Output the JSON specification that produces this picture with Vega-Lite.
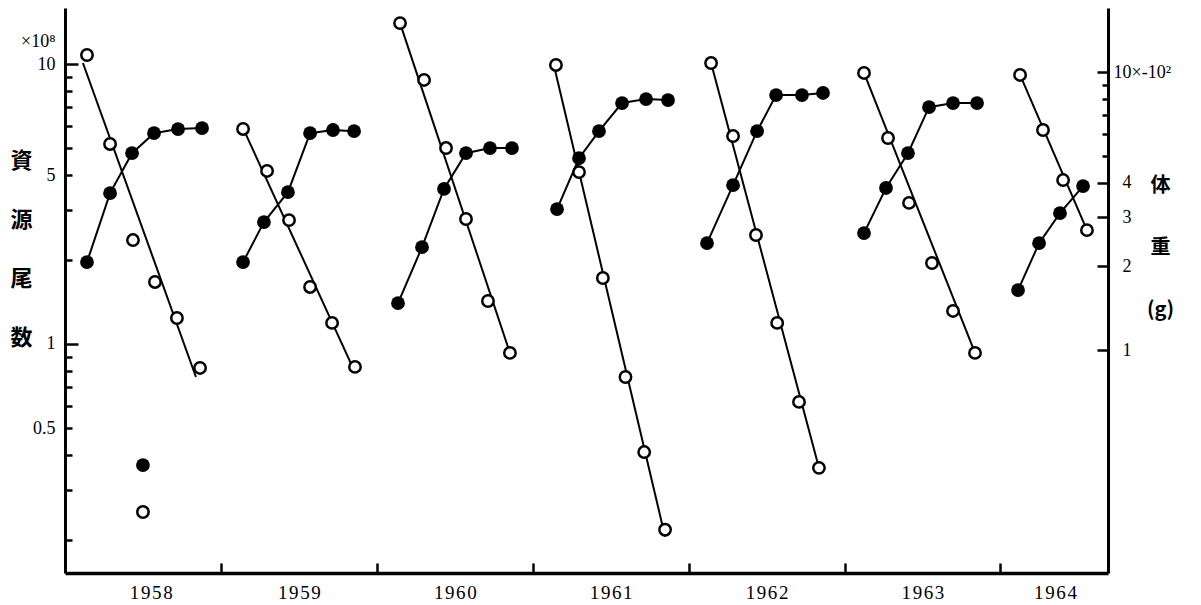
{
  "$schema": "https://vega.github.io/schema/vega-lite/v6.json",
  "width": 1043,
  "height": 565,
  "autosize": {"type": "none"},
  "padding": {"left": 65, "top": 8, "right": 93, "bottom": 32},
  "background": "white",
  "config": {
    "view": {"stroke": null},
    "axis": {
      "grid": false,
      "domainColor": "black",
      "domainWidth": 3,
      "tickColor": "black",
      "tickWidth": 2.5,
      "labelColor": "black",
      "labelFont": "Liberation Serif",
      "labelFontSize": 18,
      "titleColor": "black",
      "labelOverlap": false,
      "labelFlush": false
    }
  },
  "datasets": {
    "open": [
      {"g": "1958", "t": 1958.141, "v": 10.77}, {"g": "1958", "t": 1958.289, "v": 5.18}, {"g": "1958", "t": 1958.436, "v": 2.35},
      {"g": "1958", "t": 1958.577, "v": 1.665}, {"g": "1958", "t": 1958.718, "v": 1.238}, {"g": "1958", "t": 1958.866, "v": 0.821},
      {"g": "1958i", "t": 1958.5, "v": 0.251},
      {"g": "1959", "t": 1959.142, "v": 5.86}, {"g": "1959", "t": 1959.296, "v": 4.15}, {"g": "1959", "t": 1959.437, "v": 2.77},
      {"g": "1959", "t": 1959.572, "v": 1.598}, {"g": "1959", "t": 1959.713, "v": 1.189}, {"g": "1959", "t": 1959.86, "v": 0.828},
      {"g": "1960", "t": 1960.149, "v": 14.0}, {"g": "1960", "t": 1960.303, "v": 8.77}, {"g": "1960", "t": 1960.444, "v": 5.01},
      {"g": "1960", "t": 1960.572, "v": 2.795}, {"g": "1960", "t": 1960.713, "v": 1.424}, {"g": "1960", "t": 1960.854, "v": 0.929},
      {"g": "1961", "t": 1961.149, "v": 9.92}, {"g": "1961", "t": 1961.297, "v": 4.11}, {"g": "1961", "t": 1961.45, "v": 1.72},
      {"g": "1961", "t": 1961.595, "v": 0.762}, {"g": "1961", "t": 1961.715, "v": 0.411}, {"g": "1961", "t": 1961.849, "v": 0.217},
      {"g": "1962", "t": 1962.144, "v": 10.08}, {"g": "1962", "t": 1962.285, "v": 5.53}, {"g": "1962", "t": 1962.432, "v": 2.45},
      {"g": "1962", "t": 1962.568, "v": 1.189}, {"g": "1962", "t": 1962.708, "v": 0.621}, {"g": "1962", "t": 1962.836, "v": 0.361},
      {"g": "1963", "t": 1963.125, "v": 9.29}, {"g": "1963", "t": 1963.279, "v": 5.44}, {"g": "1963", "t": 1963.414, "v": 3.19},
      {"g": "1963", "t": 1963.561, "v": 1.946}, {"g": "1963", "t": 1963.696, "v": 1.312}, {"g": "1963", "t": 1963.837, "v": 0.929},
      {"g": "1964", "t": 1964.126, "v": 9.14}, {"g": "1964", "t": 1964.273, "v": 5.81}, {"g": "1964", "t": 1964.402, "v": 3.85},
      {"g": "1964", "t": 1964.555, "v": 2.55}
    ],
    "fit": [
      {"g": "1958", "t": 1958.115, "v": 10.08}, {"g": "1958", "t": 1958.84, "v": 0.762},
      {"g": "1959", "t": 1959.142, "v": 5.9}, {"g": "1959", "t": 1959.847, "v": 0.821},
      {"g": "1960", "t": 1960.149, "v": 14.0}, {"g": "1960", "t": 1960.854, "v": 0.929},
      {"g": "1961", "t": 1961.137, "v": 9.84}, {"g": "1961", "t": 1961.849, "v": 0.205},
      {"g": "1962", "t": 1962.144, "v": 10.08}, {"g": "1962", "t": 1962.836, "v": 0.361},
      {"g": "1963", "t": 1963.125, "v": 9.29}, {"g": "1963", "t": 1963.837, "v": 0.929},
      {"g": "1964", "t": 1964.126, "v": 9.14}, {"g": "1964", "t": 1964.555, "v": 2.55}
    ],
    "filled": [
      {"g": "1958", "t": 1958.141, "v": 2.073}, {"g": "1958", "t": 1958.289, "v": 3.67}, {"g": "1958", "t": 1958.43, "v": 5.11},
      {"g": "1958", "t": 1958.571, "v": 6.03}, {"g": "1958", "t": 1958.725, "v": 6.24}, {"g": "1958", "t": 1958.879, "v": 6.29},
      {"g": "1958i", "t": 1958.5, "v": 0.386},
      {"g": "1959", "t": 1959.142, "v": 2.073}, {"g": "1959", "t": 1959.276, "v": 2.887}, {"g": "1959", "t": 1959.43, "v": 3.7},
      {"g": "1959", "t": 1959.572, "v": 6.03}, {"g": "1959", "t": 1959.719, "v": 6.19}, {"g": "1959", "t": 1959.854, "v": 6.13},
      {"g": "1960", "t": 1960.136, "v": 1.476}, {"g": "1960", "t": 1960.29, "v": 2.347}, {"g": "1960", "t": 1960.431, "v": 3.8},
      {"g": "1960", "t": 1960.572, "v": 5.11}, {"g": "1960", "t": 1960.726, "v": 5.33}, {"g": "1960", "t": 1960.867, "v": 5.33},
      {"g": "1961", "t": 1961.156, "v": 3.215}, {"g": "1961", "t": 1961.297, "v": 4.9}, {"g": "1961", "t": 1961.425, "v": 6.13},
      {"g": "1961", "t": 1961.573, "v": 7.74}, {"g": "1961", "t": 1961.727, "v": 8.0}, {"g": "1961", "t": 1961.868, "v": 7.93},
      {"g": "1962", "t": 1962.118, "v": 2.426}, {"g": "1962", "t": 1962.285, "v": 3.92}, {"g": "1962", "t": 1962.439, "v": 6.13},
      {"g": "1962", "t": 1962.561, "v": 8.27}, {"g": "1962", "t": 1962.727, "v": 8.27}, {"g": "1962", "t": 1962.862, "v": 8.41},
      {"g": "1963", "t": 1963.125, "v": 2.636}, {"g": "1963", "t": 1963.266, "v": 3.83}, {"g": "1963", "t": 1963.407, "v": 5.11},
      {"g": "1963", "t": 1963.542, "v": 7.48}, {"g": "1963", "t": 1963.696, "v": 7.74}, {"g": "1963", "t": 1963.85, "v": 7.74},
      {"g": "1964", "t": 1964.113, "v": 1.644}, {"g": "1964", "t": 1964.248, "v": 2.426}, {"g": "1964", "t": 1964.382, "v": 3.11},
      {"g": "1964", "t": 1964.53, "v": 3.89}
    ]
  },
  "encoding": {
    "x": {
      "field": "t",
      "type": "quantitative",
      "scale": {"domain": [1958, 1964.69], "nice": false, "zero": false},
      "axis": {
        "title": null,
        "values": [1958.55, 1959, 1959.5, 1960, 1960.5, 1961, 1961.5, 1962, 1962.5, 1963, 1963.5, 1964, 1964.35],
        "labelExpr": "datum.value % 1 == 0 ? '' : slice(toString(floor(datum.value)),0,1) + '\u200a' + slice(toString(floor(datum.value)),1,2) + '\u200a' + slice(toString(floor(datum.value)),2,3) + '\u200a' + slice(toString(floor(datum.value)),3,4)",
        "tickSize": -10,
        "tickOpacity": {"condition": {"test": "datum.value % 1 != 0", "value": 0}, "value": 1},
        "labelFontSize": 19,
        "labelPadding": 20,
        "domainWidth": 3.5
      }
    }
  },
  "layer": [
    {
      "layer": [
        {
          "data": {"name": "fit"},
          "mark": {"type": "line", "color": "black", "strokeWidth": 2},
          "encoding": {"detail": {"field": "g", "type": "nominal"}}
        },
        {
          "data": {"name": "open"},
          "mark": {"type": "circle", "fill": "white", "stroke": "black", "strokeWidth": 2.5, "size": 130, "opacity": 1, "fillOpacity": 1}
        }
      ],
      "encoding": {
        "y": {
          "field": "v",
          "type": "quantitative",
          "scale": {"type": "log", "domain": [0.152, 15.85], "nice": false},
          "axis": {
            "orient": "left",
            "values": [0.2, 0.3, 0.4, 0.5, 0.6, 0.7, 0.8, 0.9, 1, 2, 3, 4, 5, 6, 7, 8, 9, 10],
            "labelExpr": "datum.value == 10 ? ['×10⁸', '10'] : datum.value == 4 ? '5' : datum.value == 1 ? '1' : datum.value == 0.5 ? '0.5' : ''",
            "tickSize": {"condition": {"test": "datum.value == 10 || datum.value == 1", "value": -13}, "value": -7},
            "labelPadding": {"condition": {"test": "datum.value == 10 || datum.value == 1", "value": 23}, "value": 17},
            "labelOffset": {"condition": {"test": "datum.value == 10", "value": -22}, "value": 0},
            "labelLineHeight": 23,
            "title": ["資", "源", "尾", "数"],
            "titleAngle": 0,
            "titleX": -44,
            "titleY": 152,
            "titleAlign": "center",
            "titleBaseline": "middle",
            "titleLineHeight": 59,
            "titleFont": "Noto Sans CJK JP",
            "titleFontSize": 22,
            "titleFontWeight": "bold"
          }
        }
      }
    },
    {
      "layer": [
        {
          "data": {"name": "filled"},
          "transform": [{"filter": "datum.g != '1958i'"}],
          "mark": {"type": "line", "color": "black", "strokeWidth": 2},
          "encoding": {"detail": {"field": "g", "type": "nominal"}}
        },
        {
          "data": {"name": "filled"},
          "mark": {"type": "circle", "color": "black", "size": 190, "opacity": 1}
        }
      ],
      "encoding": {
        "y": {
          "field": "v",
          "type": "quantitative",
          "scale": {"type": "log", "domain": [0.158, 17.0], "nice": false},
          "axis": {
            "orient": "right",
            "values": [1, 2, 3, 4, 5, 6, 7, 8, 9, 10],
            "labelExpr": "datum.value == 10 ? '10×-10²' : datum.value <= 4 ? toString(datum.value) : ''",
            "tickSize": {"condition": {"test": "datum.value == 10 || datum.value <= 4", "value": -11}, "value": -6},
            "labelPadding": {"condition": {"test": "datum.value == 10", "value": 16}, "value": 25},
            "title": ["体", "重", "(g)"],
            "titleAngle": 0,
            "titleX": 52,
            "titleY": 177,
            "titleAlign": "center",
            "titleBaseline": "middle",
            "titleLineHeight": 62,
            "titleFont": "Noto Sans CJK JP",
            "titleFontSize": 20,
            "titleFontWeight": "bold"
          }
        }
      }
    }
  ],
  "resolve": {"scale": {"y": "independent"}}
}
